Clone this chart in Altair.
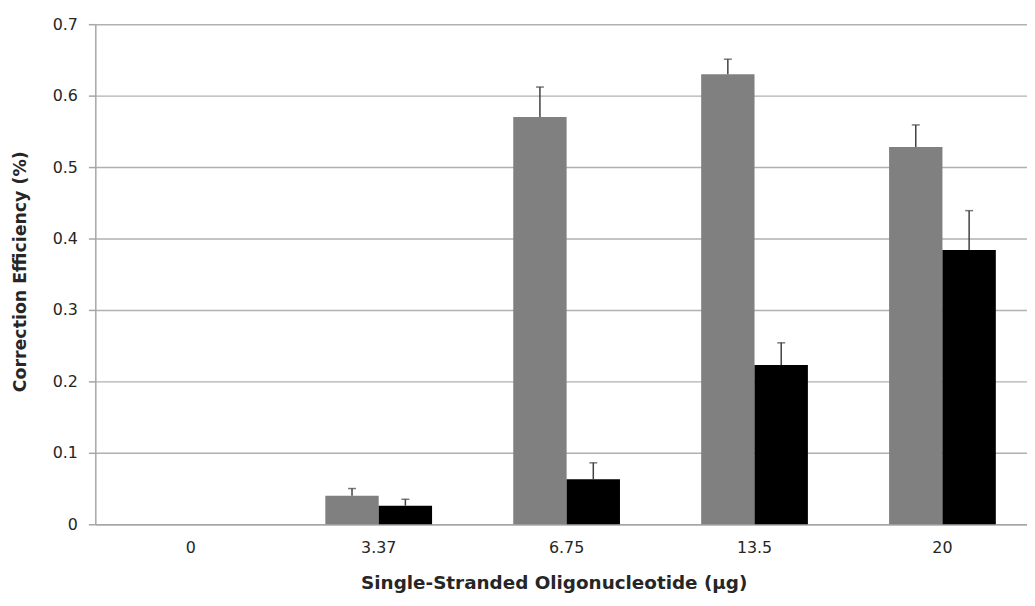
import altair as alt
import pandas as pd

categories = ["0", "3.37", "6.75", "13.5", "20"]
series_names = ["Series 1", "Series 2"]
gray_values = [0.0, 0.040, 0.570, 0.630, 0.528]
gray_errors = [0.0, 0.010, 0.042, 0.021, 0.031]
black_values = [0.0, 0.026, 0.063, 0.223, 0.384]
black_errors = [0.0, 0.009, 0.023, 0.031, 0.055]

rows = []
for i, c in enumerate(categories):
    rows.append({"dose": c, "series": series_names[0], "value": gray_values[i],
                 "upper": gray_values[i] + gray_errors[i], "err": gray_errors[i]})
    rows.append({"dose": c, "series": series_names[1], "value": black_values[i],
                 "upper": black_values[i] + black_errors[i], "err": black_errors[i]})
df = pd.DataFrame(rows)

FONT = "DejaVu Sans"
x_enc = alt.X("dose:N", sort=categories,
              title="Single-Stranded Oligonucleotide (µg)",
              scale=alt.Scale(range=[0, 950], paddingInner=0.432, paddingOuter=0.224),
              axis=alt.Axis(labelAngle=0, ticks=False, grid=False, domainColor="#a6a6a6",
                            domainWidth=1.5, labelPadding=15,
                            titleFontSize=18.5, titleX=462, titleY=65,
                            titleBaseline="alphabetic", titleAlign="center"))
xoff = alt.XOffset("series:N", sort=series_names, scale=alt.Scale(paddingInner=0, paddingOuter=0))
color = alt.Color("series:N", sort=series_names,
                  scale=alt.Scale(domain=series_names, range=["#808080", "#000000"]), legend=None)

y_axis = alt.Axis(values=[0, 0.1, 0.2, 0.3, 0.4, 0.5, 0.6, 0.7],
                  labelExpr="datum.value == 0 ? '0' : format(datum.value, '.1f')",
                  grid=True, gridColor="#b0b0b0", gridWidth=1.5,
                  domainColor="#a6a6a6", domainWidth=1.5,
                  tickColor="#a6a6a6", tickWidth=1.5, tickSize=7, labelPadding=11,
                  titleFontSize=17.5, titleX=-75, titleY=249, titleBaseline="middle",
                  titleAlign="center")

bars = alt.Chart(df).mark_bar().encode(
    x=x_enc, xOffset=xoff,
    y=alt.Y("value:Q", title="Correction Efficiency (%)",
            scale=alt.Scale(domain=[0, 0.7], nice=False), axis=y_axis),
    color=color,
)

err_df = df[df["err"] > 0]
rules = alt.Chart(err_df).mark_rule(color="#404040", strokeWidth=1.5).encode(
    x=alt.X("dose:N", sort=categories), xOffset=xoff,
    y="value:Q", y2="upper:Q",
)
caps = alt.Chart(err_df).mark_tick(color="#404040", thickness=1.5, size=8).encode(
    x=alt.X("dose:N", sort=categories), xOffset=xoff,
    y="upper:Q",
)

chart = alt.layer(bars, rules, caps).properties(
    width=931, height=504,
    autosize=alt.AutoSizeParams(type="none"),
    padding={"left": 88, "top": 14, "right": 8, "bottom": 72},
).configure_view(stroke=None).configure_axis(
    labelFont=FONT, titleFont=FONT, labelFontSize=16,
    labelColor="#262626", titleColor="#262626", titleFontWeight="bold",
)

chart.save("out.html", embed_options={"renderer": "svg", "actions": False})
